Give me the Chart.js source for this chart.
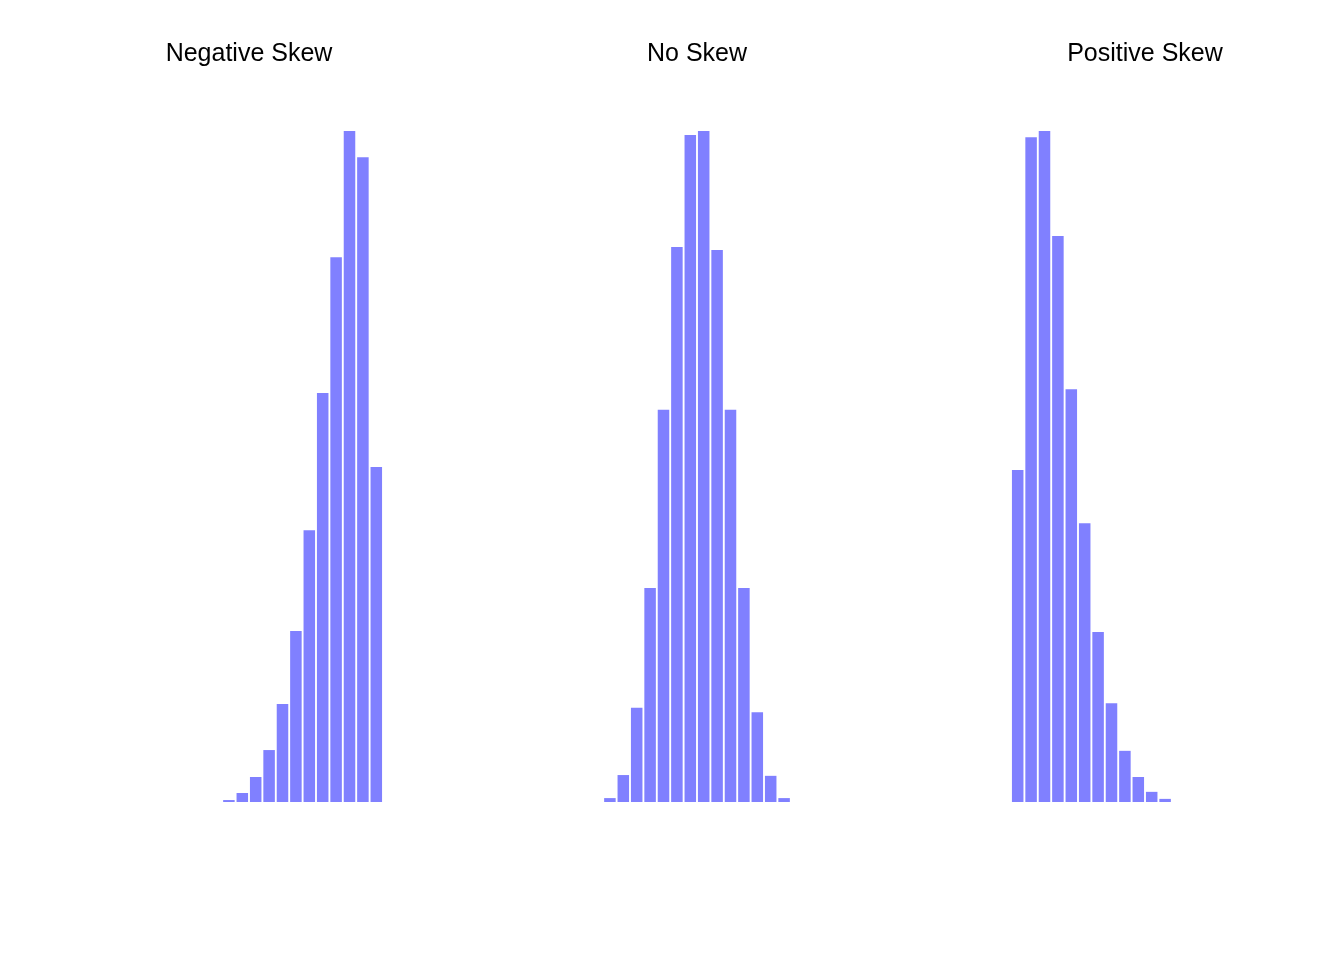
<!DOCTYPE html>
<html>
<head>
<meta charset="utf-8">
<title>Skewness histograms</title>
<script src="https://cdn.jsdelivr.net/npm/chart.js@4.4.1/dist/chart.umd.min.js"></script>
<style>
    html, body { margin: 0; padding: 0; background: #ffffff; }
    #wrap { position: relative; width: 1344px; height: 960px; }
    .panel { position: absolute; top: 0; width: 448px; height: 960px; }
</style>
</head>
<body>
<div id="wrap">
    <div class="panel" style="left:0px"><canvas id="negChart" width="448" height="960"></canvas></div>
    <div class="panel" style="left:448px"><canvas id="noChart" width="448" height="960"></canvas></div>
    <div class="panel" style="left:896px"><canvas id="posChart" width="448" height="960"></canvas></div>
</div>
<script>
// common bin grid shared by all three panels (lower edge of each bin)
const binLabels = ['0', '1', '2', '3', '4', '5', '6', '7', '8', '9',
                   '10', '11', '12', '13', '14', '15', '16', '17', '18', '19'];

// histogram counts
const negativeSkewCounts = [5, 23, 64, 133, 251, 438, 696, 1047, 1395, 1718, 1651, 858];
const noSkewCounts = [10, 69, 241, 548, 1004, 1421, 1708, 1718, 1413, 1004, 548, 230, 67, 10];
const positiveSkewCounts = [850, 1702, 1718, 1449, 1057, 714, 435, 253, 131, 64, 26, 8];

// index in binLabels of the first bin of each histogram
const negativeSkewFirstBin = 8;
const noSkewFirstBin = 3;
const positiveSkewFirstBin = 0;

const panelTitles = ['Negative Skew', 'No Skew', 'Positive Skew'];

const BAR_COLOR = '#8080FF';

// put the counts on the shared bin grid (empty bins stay null)
function placeOnGrid(counts, firstBin) {
    const row = binLabels.map(() => null);
    counts.forEach((c, i) => { row[firstBin + i] = c; });
    return row;
}

function renderHistogram(canvasId, title, counts, firstBin) {
    const ctx = document.getElementById(canvasId).getContext('2d');
    return new Chart(ctx, {
        type: 'bar',
        data: {
            labels: binLabels,
            datasets: [{
                data: placeOnGrid(counts, firstBin),
                backgroundColor: BAR_COLOR,
                borderWidth: 0,
                barPercentage: 0.86,
                categoryPercentage: 1.0
            }]
        },
        options: {
            responsive: false,
            animation: false,
            devicePixelRatio: 1,
            layout: { padding: { left: 115, right: 65, top: 0, bottom: 158 } },
            plugins: {
                legend: { display: false },
                tooltip: { enabled: false },
                title: {
                    display: true,
                    text: title,
                    fullSize: false,
                    color: '#000000',
                    font: { family: '"Liberation Sans", Arial, sans-serif', size: 25, weight: 'normal' },
                    padding: { top: 39, bottom: 62 }
                }
            },
            scales: {
                x: { display: false, grid: { display: false } },
                y: { display: false, min: 0, max: Math.max(...counts), grid: { display: false } }
            }
        }
    });
}

renderHistogram('negChart', panelTitles[0], negativeSkewCounts, negativeSkewFirstBin);
renderHistogram('noChart', panelTitles[1], noSkewCounts, noSkewFirstBin);
renderHistogram('posChart', panelTitles[2], positiveSkewCounts, positiveSkewFirstBin);
</script>
</body>
</html>
